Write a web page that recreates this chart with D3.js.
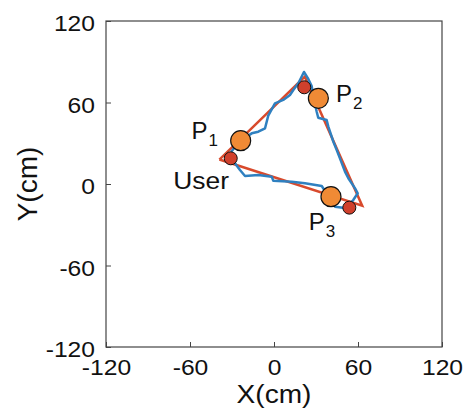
<!DOCTYPE html>
<html>
<head>
<meta charset="utf-8">
<script src="https://cdn.jsdelivr.net/npm/d3@7"></script>
<style>
  body { margin: 0; background: #fff; }
  text { font-family: "Liberation Sans", Helvetica, Arial, sans-serif; fill: #111; }
</style>
</head>
<body>
<div id="chart"></div>
<script>
// axis ticks
var ticks = [-120, -60, 0, 60, 120];

// planned triangle (red)
var triangle = [[-39, 18], [22, 79], [63, -16], [-39, 18]];

// measured trajectory (blue)
var trajectory = [
  [-30.7, 23.6], [-24.3, 31.7], [-15.9, 37.3], [-11.2, 38.5], [-6.4, 41.0],
  [-4.1, 50.3], [0.7, 59.4], [6.6, 61.9], [11.4, 65.5], [13.8, 69.2],
  [17.4, 74.2], [21.4, 82.5], [24.5, 77.3], [26.9, 72.2], [28.6, 61.9],
  [30.5, 53.2], [31.6, 48.8], [37.6, 47.1], [38.8, 42.2], [42.4, 31.1],
  [44.8, 25.0], [47.1, 18.9], [50.7, 9.1], [53.1, 4.2], [57.9, -3.2],
  [59.8, -6.8], [56.6, -11.8], [50.7, -17.7], [43.6, -16.7], [34.1, -1.5],
  [22.1, 0.5], [12.6, 1.7], [-0.5, 2.4], [-1.6, 5.4], [-11.2, 6.6],
  [-20.7, 5.9], [-24.3, 10.3], [-27.9, 15.2], [-30.7, 19.1]
];

// user positions (red dots)
var users = [[-30.9, 18.9], [21.6, 71.2], [53.8, -17.4]];

// anchors P1..P3 (orange dots)
var anchors = [[-23.8, 31.9], [31.7, 63.1], [40.7, -9.3]];
var anchorNames = ["1", "2", "3"];
var anchorLabelPos = [[-59, 33], [44.3, 60.6], [24.8, -34]];
var userLabelPos = [-72, -3.9];

var margin = {top: 21, right: 24, bottom: 65, left: 106},
    width = 466 - margin.left - margin.right,
    height = 412 - margin.top - margin.bottom;

var svg = d3.select("#chart")
  .append("svg")
    .attr("width", 466)
    .attr("height", 412)
  .append("g")
    .attr("transform", "translate(" + margin.left + "," + margin.top + ")");

var x = d3.scaleLinear().domain([-120, 120]).range([0, width]);
var y = d3.scaleLinear().domain([-120, 120]).range([height, 0]);

// widen text a little, the original font runs wider than Liberation Sans
function widen(sel, k) {
  sel.each(function () {
    var len = this.getComputedTextLength();
    d3.select(this).attr("textLength", len * k).attr("lengthAdjust", "spacingAndGlyphs");
  });
}

// box
svg.append("rect")
  .attr("x", 0).attr("y", 0)
  .attr("width", width).attr("height", height)
  .attr("fill", "none")
  .attr("stroke", "#444")
  .attr("stroke-width", 1.2);

// X axis
var xAxis = svg.append("g")
  .attr("transform", "translate(0," + height + ")")
  .call(d3.axisBottom(x).tickValues(ticks).tickFormat(function (d) { return String(d); })
        .tickSizeInner(-5).tickSizeOuter(0).tickPadding(12));
xAxis.select(".domain").remove();
xAxis.selectAll("line").attr("stroke", "#444");
xAxis.selectAll("text").style("font-size", "22px").attr("fill", "#111");
widen(xAxis.selectAll("text"), 1.12);

// Y axis
var yAxis = svg.append("g")
  .call(d3.axisLeft(y).tickValues(ticks).tickFormat(function (d) { return String(d); })
        .tickSizeInner(-5).tickSizeOuter(0).tickPadding(11));
yAxis.select(".domain").remove();
yAxis.selectAll("line").attr("stroke", "#444");
yAxis.selectAll("text").style("font-size", "22px").attr("fill", "#111").attr("dy", "0.45em");
widen(yAxis.selectAll("text"), 1.12);

// axis titles
var xTitle = svg.append("text")
  .attr("x", width / 2)
  .attr("y", height + 56)
  .attr("text-anchor", "middle")
  .style("font-size", "26px")
  .text("X(cm)");
widen(xTitle, 1.08);

var yTitle = svg.append("text")
  .attr("transform", "translate(" + (-69) + "," + (height / 2) + ") rotate(-90)")
  .attr("text-anchor", "middle")
  .style("font-size", "28px")
  .text("Y(cm)");

var line = d3.line()
  .x(function (d) { return x(d[0]); })
  .y(function (d) { return y(d[1]); });

// red triangle
svg.append("path")
  .attr("fill", "none")
  .attr("stroke", "#d84a2c")
  .attr("stroke-width", 2.5)
  .attr("stroke-linejoin", "miter")
  .attr("d", line(triangle));

// blue trajectory
svg.append("path")
  .attr("fill", "none")
  .attr("stroke", "#2f80c0")
  .attr("stroke-width", 2.5)
  .attr("stroke-linejoin", "round")
  .attr("d", line(trajectory));

// user dots
svg.selectAll(".user")
  .data(users)
  .enter()
  .append("circle")
  .attr("class", "user")
  .attr("cx", function (d) { return x(d[0]); })
  .attr("cy", function (d) { return y(d[1]); })
  .attr("r", 6.5)
  .attr("fill", "#d0402c")
  .attr("stroke", "#111")
  .attr("stroke-width", 1);

// anchor dots
svg.selectAll(".anchor")
  .data(anchors)
  .enter()
  .append("circle")
  .attr("class", "anchor")
  .attr("cx", function (d) { return x(d[0]); })
  .attr("cy", function (d) { return y(d[1]); })
  .attr("r", 10)
  .attr("fill", "#f08a35")
  .attr("stroke", "#111")
  .attr("stroke-width", 1.2);

// anchor labels
anchorLabelPos.forEach(function (p, i) {
  var t = svg.append("text")
    .attr("x", x(p[0]))
    .attr("y", y(p[1]))
    .style("font-size", "24px");
  t.append("tspan").text("P");
  t.append("tspan").attr("dx", "1").attr("dy", "7").style("font-size", "17px").text(anchorNames[i]);
});

var userLabel = svg.append("text")
  .attr("x", x(userLabelPos[0]))
  .attr("y", y(userLabelPos[1]))
  .style("font-size", "24px")
  .text("User");
widen(userLabel, 1.1);
</script>
</body>
</html>
